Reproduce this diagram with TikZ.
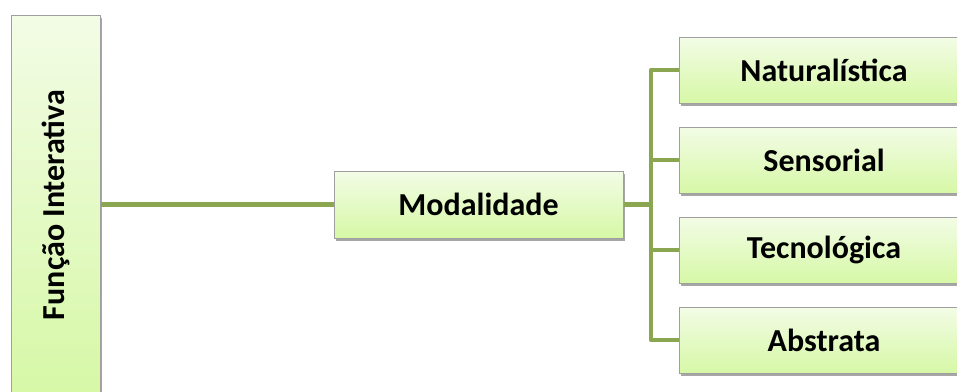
\documentclass[tikz,border=0pt]{standalone}
\usepackage{fontspec}
\setmainfont{Carlito}
\usepackage{xcolor}
\usetikzlibrary{shadows}

\definecolor{boxtop}{RGB}{243,252,230}
\definecolor{boxbot}{RGB}{214,248,166}
\definecolor{linkgreen}{RGB}{139,166,80}

\begin{document}
\begin{tikzpicture} [x=1pt, y=-1pt,
    termo/.style={ draw=gray!75, line width=1pt, top color=boxtop, bottom color=boxbot,
        drop shadow={shadow xshift=2pt, shadow yshift=-2.5pt, fill=black, opacity=.35},
        font=\fontsize{32}{38}\selectfont\bfseries, inner sep=0pt },
    ramo/.style={ draw=linkgreen, line width=4.5pt, line join=round } ]
    \clip (0,0) rectangle (957,391);

    \node [termo, minimum width=89pt, minimum height=380pt] (funcao) at (55.5,205)
        {\rotatebox{90}{Função Interativa}};
    \node [termo, minimum width=289pt, minimum height=67pt] (modal) at (478.5,204.5) {Modalidade};
    \coordinate (bus) at (651,204.5);

    \foreach \Name/\Y/\Text in {nat/70/Naturalística, sens/160/Sensorial,
                                tec/250/Tecnológica, abs/340/Abstrata}{
        \node [termo, minimum width=290pt, minimum height=66pt] (\Name) at (824,\Y) {\Text};
        \draw [ramo] (bus) |- (\Name.west);
    }

    \draw [ramo] (funcao.east |- modal) -- (modal.west);
    \draw [ramo] (modal.east) -- (bus);
\end{tikzpicture}
\end{document}
